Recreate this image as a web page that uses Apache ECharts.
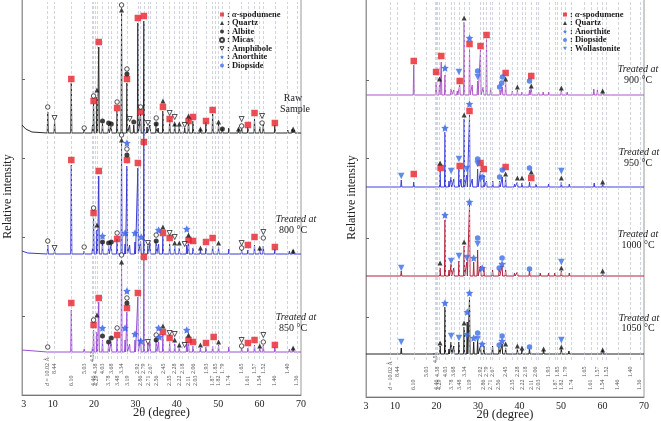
<!DOCTYPE html>
<html><head><meta charset="utf-8">
<script src="https://cdn.jsdelivr.net/npm/echarts@6/dist/echarts.min.js"></script>
<style>html,body{margin:0;padding:0;background:#fff}#c{width:661px;height:421px}</style>
</head><body><div id="c"></div>
<script>
// ---------- DATA (2θ in degrees, intensities in arbitrary units) ----------
const xTicks = [3, 10, 20, 30, 40, 50, 60, 70];
// d-spacing reference lines: [label, 2θ, row]
const dLines = [["d = 10.02 Å",8.82,"l"],["8.44",10.47,"u"],["6.10",14.51,"l"],["5.03",17.62,"u"],["4.52",19.63,"h"],
  ["4.46",19.89,"l"],["4.38",20.26,"u"],["4.29",20.69,"l"],["4.03",22.04,"u"],["3.78",23.52,"l"],["3.68",24.17,"u"],
  ["3.48",25.58,"l"],["3.34",26.67,"u"],["3.19",27.95,"l"],["2.92",30.59,"u"],["2.86",31.25,"l"],["2.79",32.05,"u"],
  ["2.71",33.03,"l"],["2.67",33.54,"u"],["2.56",35.02,"l"],["2.45",36.65,"u"],["2.35",38.27,"l"],["2.28",39.49,"u"],
  ["2.22",40.60,"l"],["2.18",41.38,"u"],["2.11",42.83,"l"],["2.06",43.92,"u"],["2.03",44.60,"l"],["1.93",47.05,"u"],
  ["1.87",48.65,"l"],["1.85",49.21,"u"],["1.82",50.08,"l"],["1.79",50.98,"u"],["1.74",52.56,"l"],["1.65",55.66,"u"],
  ["1.61",57.17,"l"],["1.57",58.76,"u"],["1.54",60.03,"l"],["1.52",60.90,"u"],["1.46",63.69,"l"],["1.40",66.77,"u"],["1.36",69.00,"l"]];

// baselines (offsets of each pattern)
const rawBase = 262, p800Base = 141, p850Base = 43;
const p900Base = 302, p950Base = 210, p1000Base = 121, p1050Base = 43;

// start-of-scan background rise [2θ, height]
const rawEdge = [[2.6,8],[3.5,4],[5,1]];
const p800Edge = [[2.6,3],[4,1]];
const p850Edge = [[2.6,2]];

// peaks [2θ, height]
const rawPeaks = [[8.82,21],[10.47,12],[14.51,50],[17.62,4],[19.63,8],[19.89,30],[20.7,36],[21.14,86],[22.04,10],[23.52,8],[24.17,7],[25.58,22],[26.65,120],[27.95,50],[28.6,8],[29.6,8],[30.59,110],[31.25,19],[32.05,112],[32.8,6],[33.54,8],[35.02,10],[35.5,5],[36.65,22],[38.27,13],[39.49,9],[40.6,7],[41.9,5],[42.83,14],[43.92,12],[45.7,4],[47.05,11],[48.65,19],[50.08,9],[51.0,5],[52.56,5],[54.9,4],[55.66,6],[57.17,6],[58.77,14],[60.03,6],[60.9,9],[63.69,8],[66.8,3],[67.9,4],[68.4,3]];
const p800Peaks = [[8.82,9],[10.47,4],[14.51,89],[17.62,3],[19.63,6],[19.89,36],[20.7,24],[21.14,78],[22.04,13],[23.52,8],[24.17,10],[25.58,15],[26.65,112],[27.5,10],[27.95,88],[28.6,9],[29.9,12],[30.59,86],[31.25,13],[32.05,125],[33.03,8],[33.54,11],[35.02,13],[35.6,10],[36.65,18],[38.27,10],[39.49,8],[40.6,6],[42.4,9],[42.83,12],[43.92,6],[45.7,4],[47.05,6],[48.65,8],[50.08,7],[52.56,5],[55.66,4],[57.17,4],[58.77,9],[60.03,5],[60.9,8],[63.69,5],[67.2,3],[68.1,4]];
const p850Peaks = [[8.82,2],[14.51,42],[17.62,3],[19.63,5],[19.89,22],[20.7,20],[21.14,50],[22.04,12],[23.52,8],[24.17,10],[25.58,14],[26.65,88],[27.5,12],[27.95,40],[28.6,8],[29.9,12],[30.59,55],[31.25,14],[32.05,92],[33.03,8],[33.54,10],[35.02,12],[35.6,10],[36.65,18],[38.27,10],[39.49,8],[40.6,6],[42.4,8],[42.83,10],[43.92,6],[45.7,4],[47.05,5],[48.65,6],[50.08,7],[52.56,5],[55.66,4],[57.17,4],[58.77,7],[60.03,5],[60.9,7],[63.69,5],[67.2,3],[68.1,4]];
const p900Peaks = [[14.51,30],[19.89,13],[20.7,10],[21.14,33],[22.04,20],[23.52,6],[24.17,5],[25.0,4],[25.58,10],[26.65,73],[27.95,46],[28.6,10],[29.9,14],[30.59,45],[31.25,8],[32.05,56],[33.03,7],[35.3,5],[35.85,8],[36.65,14],[38.27,4],[39.49,5],[40.6,3],[42.4,5],[42.83,8],[44.6,3],[45.7,3],[47.05,3],[50.08,6],[51.5,3],[57.9,6],[58.77,5],[60.03,4],[62.0,2]];
const p950Peaks = [[11.5,7],[14.51,5],[20.85,16],[22.04,55],[23.0,6],[23.52,10],[24.17,8],[25.4,18],[25.9,8],[26.65,68],[27.3,12],[27.95,72],[28.6,8],[29.9,18],[30.59,16],[31.4,12],[32.05,6],[33.54,6],[35.2,6],[35.85,10],[36.65,10],[38.8,3],[39.49,5],[40.6,4],[42.4,5],[44.0,3],[47.0,3],[48.5,2],[50.08,5],[52.0,3],[58.0,4],[60.03,4],[63.0,2]];
const p1000Peaks = [[11.5,5],[13.8,2],[20.85,8],[22.04,56],[23.0,6],[23.52,12],[24.17,8],[25.4,15],[26.65,30],[27.3,14],[27.95,72],[28.95,14],[29.9,26],[30.6,10],[31.4,9],[33.5,6],[35.1,7],[35.8,10],[36.65,6],[38.8,3],[39.49,4],[42.4,5],[45.0,3],[47.0,3],[48.5,3],[50.08,5],[52.0,3],[57.5,2],[60.03,3],[68.0,2]];
const p1050Peaks = [[11.5,6],[13.8,2],[20.85,8],[22.04,47],[23.0,5],[23.52,12],[24.17,8],[25.4,12],[26.65,27],[27.4,32],[27.95,57],[28.95,12],[29.9,14],[30.6,8],[31.4,8],[33.5,8],[35.1,7],[35.8,10],[36.65,6],[39.49,5],[40.6,4],[42.4,5],[45.8,4],[48.0,2],[50.08,6],[51.9,3],[57.5,2],[60.03,4],[68.0,2]];

// phase markers [2θ, phase, height above baseline]
// S α-spodumene, Q quartz, A albite, M micas, H amphibole, N anorthite, D diopside, W wollastonite
const rawMarks = [[8.82,'M',26],[10.47,'H',15],[14.51,'S',54],[17.62,'M',5],[19.89,'M',37],[19.89,'S',32],[20.7,'Q',43],[21.14,'S',91],[22.04,'A',12],[23.52,'A',10],[24.17,'A',9],[25.58,'M',31],[25.58,'S',25],[26.65,'M',128],[26.65,'Q',123],[27.95,'M',64],[27.95,'A',59],[27.95,'S',54],[28.6,'H',14],[29.6,'A',11],[30.59,'S',115],[31.25,'M',26],[31.25,'S',21],[32.05,'S',117],[33.03,'H',10],[35.02,'M',15],[35.02,'A',9],[36.65,'Q',32],[36.65,'S',26],[38.27,'H',20],[38.27,'S',14],[39.49,'H',16],[39.49,'Q',9],[40.6,'Q',9],[41.9,'H',8],[42.83,'Q',17],[42.83,'S',12],[43.92,'S',16],[45.7,'Q',4],[47.05,'S',12],[48.65,'S',23],[50.08,'Q',11],[51.0,'A',4],[54.9,'Q',4],[55.66,'H',14],[55.66,'M',7],[57.17,'S',8],[58.77,'S',20],[60.6,'H',17],[60.6,'M',10],[63.69,'S',10],[68.1,'Q',4]];
const p800Marks = [[8.82,'M',13],[10.47,'H',6],[14.51,'S',94],[17.62,'M',7],[19.89,'M',46],[19.89,'S',41],[20.7,'Q',29],[21.14,'S',83],[22.04,'N',18],[22.04,'A',12],[23.52,'A',11],[24.17,'A',12],[25.58,'M',21],[25.58,'S',15],[26.65,'M',119],[26.65,'Q',114],[27.5,'N',21],[27.95,'N',111],[27.95,'M',105],[27.95,'A',99],[27.95,'S',94],[29.9,'N',21],[30.59,'S',91],[31.4,'N',17],[32.05,'S',112],[33.03,'H',11],[35.02,'M',19],[35.02,'A',13],[35.6,'N',24],[36.65,'Q',27],[36.65,'S',21],[38.27,'H',21],[38.27,'S',16],[39.49,'H',17],[39.49,'Q',11],[40.6,'Q',11],[41.9,'H',10],[42.4,'N',25],[42.83,'Q',19],[42.83,'S',14],[43.92,'S',13],[45.7,'Q',6],[47.05,'S',12],[48.65,'S',16],[50.08,'Q',11],[55.66,'H',11],[55.66,'M',6],[57.17,'S',9],[58.77,'S',17],[60.03,'Q',6],[60.9,'H',22],[60.9,'M',16],[63.69,'S',7],[68.1,'Q',3]];
const p850Marks = [[8.82,'M',5],[14.51,'S',49],[19.89,'M',32],[19.89,'S',27],[20.7,'Q',37],[21.14,'S',54],[22.04,'N',24],[22.04,'A',16],[23.52,'A',10],[24.17,'A',14],[25.58,'M',24],[25.58,'S',17],[26.65,'M',97],[26.65,'Q',90],[27.5,'N',24],[27.95,'N',61],[27.95,'M',54],[27.95,'A',49],[27.95,'S',44],[29.9,'N',18],[30.59,'S',59],[31.3,'N',11],[32.05,'S',95],[33.03,'H',10],[35.02,'M',17],[35.02,'A',12],[35.6,'N',24],[35.8,'N',15],[36.65,'Q',26],[36.65,'S',20],[38.27,'H',19],[38.27,'S',14],[39.49,'H',18],[39.49,'Q',12],[40.6,'Q',7],[41.9,'H',7],[42.4,'N',22],[42.83,'Q',17],[42.83,'S',12],[43.92,'S',10],[45.7,'Q',7],[47.05,'S',9],[48.9,'S',15],[50.08,'Q',10],[55.66,'H',12],[55.66,'M',6],[57.17,'S',9],[58.77,'S',12],[60.03,'Q',6],[60.9,'H',17],[60.9,'M',10],[63.69,'S',7],[68.1,'Q',4]];
const p900Marks = [[14.51,'S',34],[19.89,'S',23],[20.7,'Q',16],[21.14,'S',39],[22.04,'N',27],[25.4,'W',23],[25.58,'S',14],[26.65,'Q',77],[27.95,'N',57],[27.95,'S',51],[29.9,'D',24],[29.9,'W',18],[30.59,'S',49],[32.05,'S',60],[35.2,'D',8],[35.7,'D',12],[35.9,'D',18],[36.65,'S',22],[36.65,'Q',16],[39.49,'Q',8],[42.4,'D',14],[42.83,'S',19],[42.83,'Q',9],[50.08,'Q',7],[60.03,'Q',4]];
const p950Marks = [[11.5,'W',11],[14.51,'S',13],[20.85,'Q',24],[21.0,'S',19],[22.04,'N',59],[23.52,'W',16],[25.4,'W',28],[25.58,'S',21],[26.65,'Q',72],[27.3,'W',18],[27.95,'N',83],[27.95,'S',76],[29.9,'D',28],[29.9,'W',23],[30.59,'S',24],[31.0,'N',10],[31.4,'S',18],[35.2,'D',10],[35.85,'D',17],[36.65,'S',20],[36.65,'Q',13],[39.49,'Q',9],[40.6,'Q',9],[42.4,'D',19],[42.83,'Q',15],[42.83,'S',9],[50.08,'W',16],[50.08,'Q',9],[60.03,'Q',5]];
const p1000Marks = [[11.5,'W',8],[20.85,'Q',13],[22.04,'N',61],[23.52,'W',15],[25.4,'W',20],[26.65,'Q',34],[27.3,'W',18],[27.95,'N',74],[28.95,'N',18],[29.9,'D',38],[29.9,'W',32],[31.0,'N',8],[35.1,'D',8],[35.8,'D',18],[35.8,'N',12],[42.4,'D',7],[50.08,'W',14],[50.08,'Q',8],[60.03,'Q',5]];
const p1050Marks = [[11.5,'W',12],[20.85,'Q',11],[22.04,'N',51],[23.52,'W',18],[25.4,'W',16],[26.65,'Q',31],[27.3,'W',18],[27.4,'N',42],[27.95,'N',61],[28.95,'N',16],[29.9,'D',21],[29.9,'W',15],[31.0,'N',10],[35.1,'D',9],[35.8,'D',18],[35.8,'N',13],[36.65,'Q',10],[39.49,'Q',8],[40.6,'Q',6],[42.4,'D',7],[45.8,'Q',5],[50.08,'W',14],[50.08,'Q',7],[60.03,'Q',4]];

const leftLegend = ['α-spodumene','Quartz','Albite','Micas','Amphibole','Anorthite','Diopside'];
const rightLegend = ['α-spodumene','Quartz','Anorthite','Diopside','Wollastonite'];

// ---------- STYLE ----------
const FONT = '"Liberation Serif", "DejaVu Serif", serif';
const STAR = 'path://M0,-10L2.94,-4.05L9.51,-3.09L4.76,1.55L5.88,8.09L0,5L-5.88,8.09L-4.76,1.55L-9.51,-3.09L-2.94,-4.05Z';
const DOWN = 'path://M0,0L10,0L5,9Z';
const phases = {
  S:{name:'α-spodumene', symbol:'rect', size:6.5, color:'#e8202a', rot:0},
  Q:{name:'Quartz', symbol:'triangle', size:5, color:'#111', rot:0},
  A:{name:'Albite', symbol:'circle', size:5, color:'#111', rot:0},
  M:{name:'Micas', symbol:'circle', size:4.5, color:'#fff', border:'#111', rot:0},
  H:{name:'Amphibole', symbol:'triangle', size:5, color:'#fff', border:'#111', rot:180, icon:DOWN},
  N:{name:'Anorthite', symbol:STAR, size:7.5, color:'#2f5fe6', rot:0},
  D:{name:'Diopside', symbol:'circle', size:5.5, color:'#3b6ee6', rot:0},
  W:{name:'Wollastonite', symbol:'triangle', size:6.5, color:'#3b6ee6', rot:180, icon:DOWN}
};
const W = 0.13; // half base width of drawn peak, degrees

function profile(base, peaks, edge, xmin) {
  const pts = [[xmin, base + ((edge && edge[0] && edge[0][0] <= xmin) ? edge[0][1] : 0)], [70, base]];
  (edge || []).forEach(e => { if (e[0] > xmin) pts.push([e[0], base + e[1]]); });
  peaks.forEach(p => { pts.push([p[0] - W, base], [p[0], base + p[1]], [p[0] + W, base]); });
  pts.sort((a, b) => a[0] - b[0]);
  return pts;
}

const leftPatterns = [
  {base: rawBase, peaks: rawPeaks, edge: rawEdge, marks: rawMarks, color: '#2b2b2b'},
  {base: p800Base, peaks: p800Peaks, edge: p800Edge, marks: p800Marks, color: '#3a3ad2'},
  {base: p850Base, peaks: p850Peaks, edge: p850Edge, marks: p850Marks, color: '#9b4fd8'}
];
const rightPatterns = [
  {base: p900Base, peaks: p900Peaks, edge: null, marks: p900Marks, color: '#b155c9'},
  {base: p950Base, peaks: p950Peaks, edge: null, marks: p950Marks, color: '#4040dc'},
  {base: p1000Base, peaks: p1000Peaks, edge: null, marks: p1000Marks, color: '#b3233f'},
  {base: p1050Base, peaks: p1050Peaks, edge: null, marks: p1050Marks, color: '#222222'}
];

const series = [];
function addPanel(idx, patterns, xmin, rows, lineBottom, ymax) {
  // reference lines + d labels
  series.push({
    type: 'scatter', xAxisIndex: idx, yAxisIndex: idx, symbolSize: 1, silent: true, z: 1,
    itemStyle: {color: 'rgba(0,0,0,0)'},
    data: dLines.map(d => ({name: d[0], value: [d[1], rows[d[2]]]})),
    label: {show: true, position: 'inside', rotate: 90, align: 'left', verticalAlign: 'middle',
      fontFamily: FONT, fontSize: 6, color: '#222',
      formatter: p => p.name.startsWith('d =') ? '{i|d}' + p.name.slice(1) : p.name,
      rich: {i: {fontStyle: 'italic', fontFamily: FONT, fontSize: 6, color: '#222'}}},
    markLine: {silent: true, symbol: 'none', animation: false, label: {show: false},
      lineStyle: {type: [3, 2], color: '#bcc4d4', width: 0.7},
      data: dLines.map(d => [{coord: [d[1], lineBottom]}, {coord: [d[1], ymax]}])}
  });
  patterns.forEach(p => series.push({
    type: 'line', xAxisIndex: idx, yAxisIndex: idx, showSymbol: false, silent: true, z: 3,
    data: profile(p.base, p.peaks, p.edge, xmin),
    lineStyle: {color: p.color, width: 1}, itemStyle: {color: p.color}
  }));
  Object.keys(phases).forEach(code => {
    const ph = phases[code];
    const data = [];
    patterns.forEach(p => p.marks.forEach(m => { if (m[1] === code) data.push([m[0], p.base + m[2]]); }));
    if (!data.length) return;
    series.push({
      type: 'scatter', name: ph.name, xAxisIndex: idx, yAxisIndex: idx, z: 5,
      symbol: ph.symbol, symbolSize: ph.size, symbolRotate: ph.rot,
      itemStyle: {color: ph.color, borderWidth: ph.border ? 0.9 : 0, borderColor: ph.border || ph.color},
      data: data
    });
  });
}
addPanel(0, leftPatterns, 2.6, {u: 21, l: 9, h: 33}, 36, 393);
addPanel(1, rightPatterns, 3, {u: 20, l: 7, h: 34}, 37, 395);

function legendFmt(n) { return n === 'α-spodumene' ? ': {i|α}-spodumene' : ': ' + n; }
function legendData(names) {
  return names.map(n => {
    const ph = Object.values(phases).find(p => p.name === n);
    if (!ph.icon) return n;
    return {name: n, icon: ph.icon, itemStyle: {color: ph.color, borderColor: ph.border || ph.color,
      borderWidth: ph.border ? 1 : 0}};
  });
}
const legendCommon = {
  orient: 'vertical', itemWidth: 4, itemHeight: 4, itemGap: -0.5, padding: 0,
  formatter: legendFmt, selectedMode: false, z: 6,
  textStyle: {fontFamily: FONT, fontSize: 8.5, fontWeight: 'bold', color: '#1a1a1a', padding: [0, 0, 0, -2],
    rich: {i: {fontStyle: 'italic', fontWeight: 'bold', fontFamily: FONT, fontSize: 8.5, color: '#1a1a1a'}}}
};

function xAxis(idx, min) {
  return {type: 'value', gridIndex: idx, min: min, max: 70,
    axisLine: {show: true, lineStyle: {color: '#777', width: 1}},
    axisTick: {show: false},
    splitLine: {show: false},
    axisLabel: {customValues: xTicks, fontFamily: FONT, fontSize: 10, color: '#222', margin: 4},
    name: '2θ (degree)', nameLocation: 'middle', nameGap: 11, nameMoveOverlap: false,
    nameTextStyle: {fontFamily: FONT, fontSize: 12.5, color: '#222', verticalAlign: 'top'}};
}
function yAxis(idx, max, ticks) {
  return {type: 'value', gridIndex: idx, min: 0, max: max,
    axisLine: {show: true, lineStyle: {color: '#999'}},
    axisTick: {show: true, inside: true, length: 3, customValues: ticks, lineStyle: {color: '#666'}},
    axisLabel: {show: false}, splitLine: {show: false},
    name: 'Relative intensity', nameLocation: 'middle', nameGap: 8, nameMoveOverlap: false,
    nameTextStyle: {fontFamily: FONT, fontSize: 12, color: '#222'}};
}

function txt(x, y, text, italic) {
  return {type: 'text', x: x, y: y, silent: true, z: 10,
    style: {text: text, fill: '#1a1a1a', font: (italic ? 'italic ' : '') + '10px ' + FONT,
      textAlign: 'center', textVerticalAlign: 'middle'}};
}
// white panels behind the legends (hide the reference lines there)
function box(x, y, w, h) {
  return {type: 'rect', silent: true, z: 2, shape: {x: x, y: y, width: w, height: h},
    style: {fill: '#fff', stroke: null}};
}

const chart = echarts.init(document.getElementById('c'), null, {renderer: 'canvas'});
chart.setOption({
  animation: false,
  backgroundColor: '#fff',
  grid: [
    {left: 22, right: 360, top: -2, bottom: 26, show: true, borderColor: '#999', borderWidth: 1,
     containLabel: false, outerBoundsMode: 'none'},
    {left: 366, right: 17, top: -2, bottom: 24, show: true, borderColor: '#999', borderWidth: 1,
     containLabel: false, outerBoundsMode: 'none'}
  ],
  xAxis: [xAxis(0, 2.6), xAxis(1, 3)],
  yAxis: [yAxis(0, 397, [79, 158, 237, 316]), yAxis(1, 399, [80, 159, 239, 317])],
  legend: [
    Object.assign({}, legendCommon, {left: 219, top: 10, data: legendData(leftLegend)}),
    Object.assign({}, legendCommon, {left: 563, top: 10, data: legendData(rightLegend)})
  ],
  graphic: [
    box(207, 6, 93, 62), box(556, 6, 87, 46),
    txt(293, 98, 'Raw'), txt(295, 109, 'Sample'),
    txt(296, 219, 'Treated at', true), txt(293, 230, '800 °C'),
    txt(296, 317, 'Treated at', true), txt(293, 328, '850 °C'),
    txt(638, 69, 'Treated at', true), txt(638, 80, '900 °C'),
    txt(639, 152, 'Treated at', true), txt(638, 163, '950 °C'),
    txt(638, 234, 'Treated at', true), txt(638, 245, '1000 °C'),
    txt(639, 318, 'Treated at', true), txt(638, 328, '1050 °C')
  ],
  series: series
});
</script></body></html>
